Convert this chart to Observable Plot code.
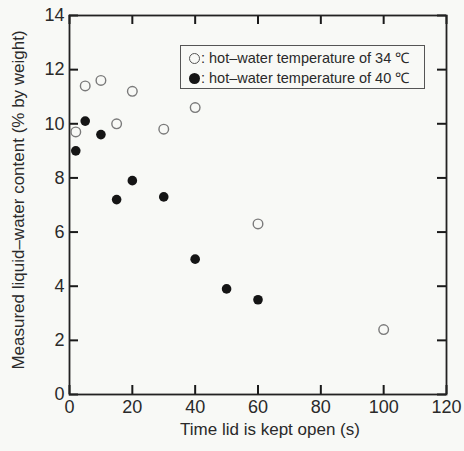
<!DOCTYPE html>
<html>
<head>
<meta charset="utf-8">
<script src="https://cdn.jsdelivr.net/npm/d3@7"></script>
<script src="https://cdn.jsdelivr.net/npm/@observablehq/plot@0.6"></script>
<style>
  html, body { margin: 0; padding: 0; background: #f8f9f6; }
  #wrap { position: relative; width: 464px; height: 451px; font-family: "Liberation Sans", Arial, sans-serif; color: #2a2a2a; }
  #legend { position: absolute; left: 180px; top: 45px; width: 245px; height: 44px; border: 1px solid #555; font-size: 14.5px; line-height: 20px; padding-top: 2px; box-sizing: border-box; }
  #legend div { white-space: nowrap; padding-left: 8px; }
  .mk { display: inline-block; width: 11px; height: 11px; border-radius: 50%; box-sizing: border-box; vertical-align: -1px; margin-right: 1px; }
</style>
</head>
<body>
<div id="wrap"></div>
<script>
const times34 = [2, 5, 10, 15, 20, 30, 40, 60, 100];
const lwc34 = [9.7, 11.4, 11.6, 10.0, 11.2, 9.8, 10.6, 6.3, 2.4];
const times40 = [2, 5, 10, 15, 20, 30, 40, 50, 60];
const lwc40 = [9.0, 10.1, 9.6, 7.2, 7.9, 7.3, 5.0, 3.9, 3.5];
const xTicks = [0, 20, 40, 60, 80, 100, 120];
const yTicks = [0, 2, 4, 6, 8, 10, 12, 14];
const xTitle = "Time lid is kept open (s)";
const yTitle = "Measured liquid\u2013water content (% by weight)";
const legend34 = "hot\u2013water temperature of 34 \u2103";
const legend40 = "hot\u2013water temperature of 40 \u2103";

const d34 = times34.map((t, i) => ({t, v: lwc34[i]}));
const d40 = times40.map((t, i) => ({t, v: lwc40[i]}));

const W = 464, H = 451, ML = 69, MR = 18, MT = 15, MB = 57;
const innerW = W - ML - MR, innerH = H - MT - MB;
const xMin = 0, xMax = 120, yMin = 0, yMax = 14;
const TL = 9; // inward tick length in px
const tx = (xMax - xMin) * TL / innerW;
const ty = (yMax - yMin) * TL / innerH;
const tickStyle = {stroke: "#1a1a1a", strokeWidth: 2};

const chart = Plot.plot({
  width: W,
  height: H,
  marginLeft: ML,
  marginRight: MR,
  marginTop: MT,
  marginBottom: MB,
  style: {background: "transparent", fontFamily: "Liberation Sans, Arial, sans-serif", color: "#2a2a2a"},
  x: {domain: [xMin, xMax]},
  y: {domain: [yMin, yMax]},
  marks: [
    Plot.axisX({ticks: xTicks, tickSize: 0, tickPadding: 6, fontSize: 18, label: null}),
    Plot.axisY({ticks: yTicks, tickSize: 0, tickPadding: 5, fontSize: 18, label: null}),
    Plot.ruleX(xTicks, {x: d => d, y1: yMin, y2: yMin + ty, ...tickStyle}),
    Plot.ruleX(xTicks, {x: d => d, y1: yMax - ty, y2: yMax, ...tickStyle}),
    Plot.ruleY(yTicks, {y: d => d, x1: xMin, x2: xMin + tx, ...tickStyle}),
    Plot.ruleY(yTicks, {y: d => d, x1: xMax - tx, x2: xMax, ...tickStyle}),
    Plot.frame({stroke: "#222", strokeWidth: 1.8}),
    Plot.dot(d34, {x: "t", y: "v", r: 4.8, stroke: "#7a7a7a", strokeWidth: 1.4, fill: "none"}),
    Plot.dot(d40, {x: "t", y: "v", r: 4.8, fill: "#151515", stroke: "none"}),
    Plot.text([yTitle], {text: d => d, frameAnchor: "left", textAnchor: "middle", dx: -51, dy: -5, rotate: -90, fontSize: 17, fill: "#2a2a2a"}),
    Plot.text([xTitle], {text: d => d, frameAnchor: "bottom", textAnchor: "middle", dx: 12, dy: 40, fontSize: 17, fill: "#2a2a2a"})
  ]
});

const wrap = document.getElementById("wrap");
wrap.appendChild(chart);
const leg = document.createElement("div");
leg.id = "legend";
leg.innerHTML = `<div><span class="mk" style="border:1.3px solid #555"></span>: ${legend34}</div>` +
                `<div><span class="mk" style="background:#151515"></span>: ${legend40}</div>`;
wrap.appendChild(leg);
</script>
</body>
</html>
